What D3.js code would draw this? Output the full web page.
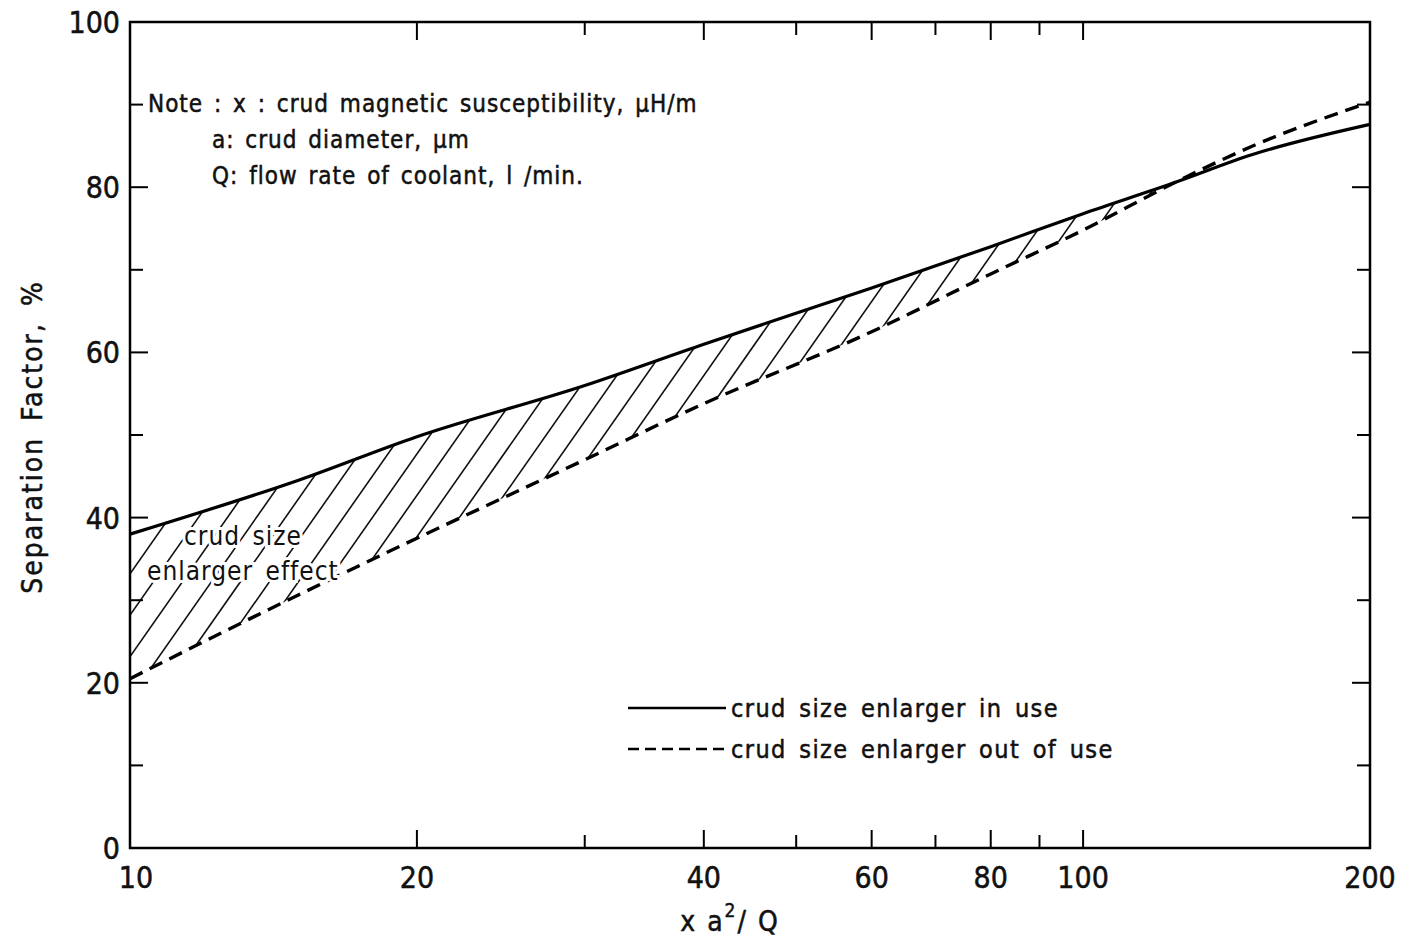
<!DOCTYPE html>
<html>
<head>
<meta charset="utf-8">
<script src="https://cdn.jsdelivr.net/npm/d3@7"></script>
<style>
  body { margin: 0; background: #fff; }
  svg { font-family: "DejaVu Sans Condensed", "Liberation Sans Narrow", sans-serif; }
  .axis-line { stroke: #000; stroke-width: 2.5; fill: none; }
  .tick-label { font-size: 30px; fill: #111; stroke: #111; stroke-width: 0.5; }
  .note { font-size: 24px; letter-spacing: 1px; word-spacing: 3px; fill: #111; stroke: #111; stroke-width: 0.5; }
  .legend-text { font-size: 25px; letter-spacing: 1.4px; word-spacing: 4px; fill: #111; stroke: #111; stroke-width: 0.5; }
</style>
</head>
<body>
<div class="container"></div>
<script>
// x = x a^2 / Q (log scale), y = separation factor %
const xValues = [10, 15, 20, 30, 40, 60, 80, 100, 125, 150, 200];
const inUse = [38, 44.5, 49.8, 56, 61, 67.8, 72.8, 76.8, 80.6, 83.9, 87.6];
const outOfUse = [20.5, 30.6, 37.5, 47, 53.8, 62.5, 69.5, 74.8, 80.6, 84.9, 90.3];

const xMajorTicks = [10, 20, 40, 60, 80, 100, 200];
const xMinorTicks = [30, 50, 70, 90];
const yMajorTicks = [0, 20, 40, 60, 80, 100];
const yMinorTicks = [10, 30, 50, 70, 90];

const noteLines = [
    'Note : x : crud magnetic susceptibility, \u03bcH/m',
    'a: crud diameter, \u03bcm',
    'Q: flow rate of coolant, l /min.'
];
const legendLabels = ['crud size enlarger in use', 'crud size enlarger out of use'];

let translate = (x, y) => (`translate(${x}, ${y})`);

const WIDTH = 1408;
const HEIGHT = 944;
const LEFT = 130;
const RIGHT = 1370;
const TOP = 22;
const BOTTOM = 848;

let xScale = d3.scaleLog()
    .domain([10, 200])
    .range([LEFT, RIGHT]);

let yScale = d3.scaleLinear()
    .domain([0, 100])
    .range([BOTTOM, TOP]);

let svg = d3.select('.container').append('svg')
    .attr('width', WIDTH)
    .attr('height', HEIGHT);

// hatched region between the two curves (up to where they cross)
let hatchIdx = d3.range(0, 9);
let area = d3.area()
    .x(i => xScale(xValues[i]))
    .y0(i => yScale(outOfUse[i]))
    .y1(i => yScale(inUse[i]))
    .curve(d3.curveMonotoneX);

svg.append('clipPath').attr('id', 'hatch-clip')
    .append('path')
    .attr('d', area(hatchIdx));

let hatch = svg.append('g').attr('clip-path', 'url(#hatch-clip)');
let slope = Math.tan(55 * Math.PI / 180);
d3.range(-700, 1400, 29).forEach(c => {
    hatch.append('line')
        .attr('x1', c).attr('y1', BOTTOM)
        .attr('x2', c + (BOTTOM - TOP) / slope).attr('y2', TOP)
        .attr('stroke', '#111')
        .attr('stroke-width', 1.6);
});

// frame
svg.append('rect')
    .attr('x', LEFT).attr('y', TOP)
    .attr('width', RIGHT - LEFT).attr('height', BOTTOM - TOP)
    .attr('class', 'axis-line');

// ticks on all four sides, pointing inward
let ticks = svg.append('g').attr('stroke', '#000').attr('stroke-width', 2);
let addX = (vals, len) => vals.forEach(v => {
    if (v === 10 || v === 200) return;
    ticks.append('line').attr('x1', xScale(v)).attr('x2', xScale(v))
        .attr('y1', BOTTOM).attr('y2', BOTTOM - len);
    ticks.append('line').attr('x1', xScale(v)).attr('x2', xScale(v))
        .attr('y1', TOP).attr('y2', TOP + len);
});
let addY = (vals, len) => vals.forEach(v => {
    if (v === 0 || v === 100) return;
    ticks.append('line').attr('y1', yScale(v)).attr('y2', yScale(v))
        .attr('x1', LEFT).attr('x2', LEFT + len);
    ticks.append('line').attr('y1', yScale(v)).attr('y2', yScale(v))
        .attr('x1', RIGHT).attr('x2', RIGHT - len);
});
addX(xMajorTicks, 18);
addX(xMinorTicks, 13);
addY(yMajorTicks, 18);
addY(yMinorTicks, 13);

svg.append('g').selectAll('text')
    .data(xMajorTicks)
    .enter().append('text')
    .attr('class', 'tick-label')
    .attr('x', d => xScale(d) + (d === 10 ? 6 : 0))
    .attr('y', BOTTOM + 40)
    .attr('text-anchor', 'middle')
    .text(d => d);

svg.append('g').selectAll('text')
    .data(yMajorTicks)
    .enter().append('text')
    .attr('class', 'tick-label')
    .attr('x', LEFT - 10)
    .attr('y', d => yScale(d) + 11)
    .attr('text-anchor', 'end')
    .text(d => d);

// axis titles
let xt = svg.append('text')
    .attr('x', 730).attr('y', 931)
    .attr('text-anchor', 'middle')
    .attr('font-size', 28)
    .attr('letter-spacing', 2)
    .attr('fill', '#111')
    .attr('stroke', '#111')
    .attr('stroke-width', 0.5);
xt.append('tspan').text('x a');
xt.append('tspan').attr('font-size', 19).attr('dy', -14).text('2');
xt.append('tspan').attr('dy', 14).text('/ Q');

svg.append('text')
    .attr('transform', translate(42, 437) + ' rotate(-90)')
    .attr('text-anchor', 'middle')
    .attr('font-size', 28)
    .attr('letter-spacing', 2)
    .attr('word-spacing', 6)
    .attr('fill', '#111')
    .attr('stroke', '#111')
    .attr('stroke-width', 0.5)
    .text('Separation Factor, %');

// curves
let line = (vals) => d3.line()
    .x((d, i) => xScale(xValues[i]))
    .y(d => yScale(d))
    .curve(d3.curveMonotoneX)(vals);

svg.append('path')
    .attr('d', line(inUse))
    .attr('fill', 'none')
    .attr('stroke', '#000')
    .attr('stroke-width', 3.2);

svg.append('path')
    .attr('d', line(outOfUse))
    .attr('fill', 'none')
    .attr('stroke', '#000')
    .attr('stroke-width', 3.4)
    .attr('stroke-dasharray', '14,8');

// region label
let effect = svg.append('g')
    .attr('font-size', 26)
    .attr('letter-spacing', 1)
    .attr('fill', '#111')
    .attr('stroke', '#fff')
    .attr('stroke-width', 6)
    .attr('paint-order', 'stroke');
effect.append('text').attr('x', 184).attr('y', 545).attr('word-spacing', 4).text('crud size');
effect.append('text').attr('x', 147).attr('y', 580).attr('word-spacing', 4).text('enlarger effect');

// note block
svg.append('g').selectAll('text')
    .data(noteLines)
    .enter().append('text')
    .attr('class', 'note')
    .attr('x', (d, i) => i === 0 ? 148 : 212)
    .attr('y', (d, i) => 112 + i * 36)
    .text(d => d);

// legend
let legend = svg.append('g');
legendLabels.forEach((label, i) => {
    let y = 708 + i * 41;
    legend.append('line')
        .attr('x1', 628).attr('x2', 726)
        .attr('y1', y).attr('y2', y)
        .attr('stroke', '#000')
        .attr('stroke-width', 2.5)
        .attr('stroke-dasharray', i === 0 ? null : '11,6');
    legend.append('text')
        .attr('class', 'legend-text')
        .attr('x', 731)
        .attr('y', y + 9)
        .text(label);
});
</script>
</body>
</html>
